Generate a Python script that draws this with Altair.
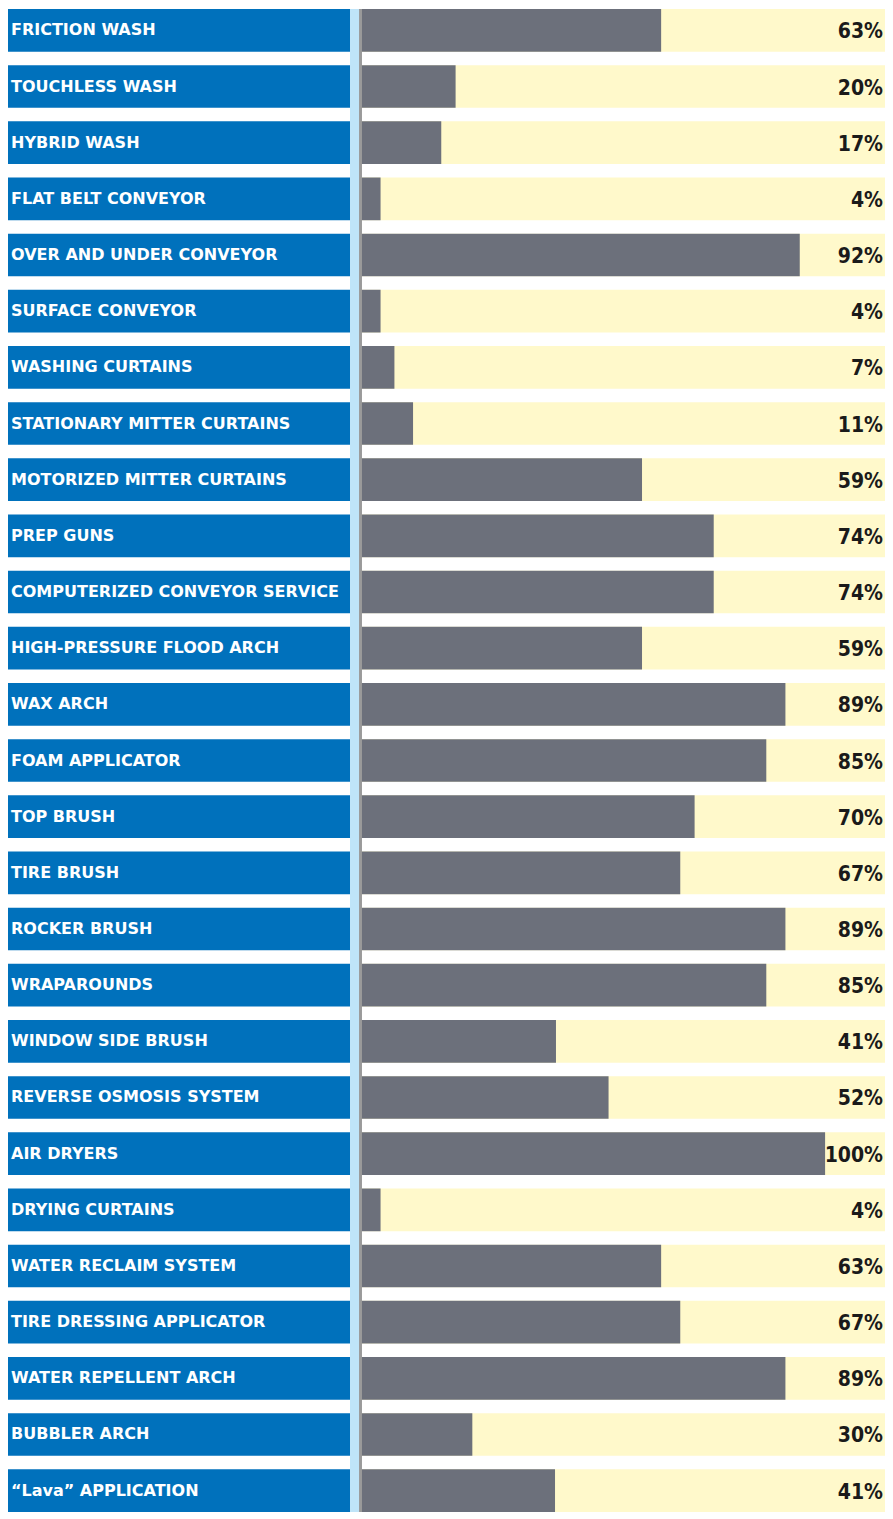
import altair as alt
import pandas as pd

labels = [
    "FRICTION WASH", "TOUCHLESS WASH", "HYBRID WASH", "FLAT BELT CONVEYOR",
    "OVER AND UNDER CONVEYOR", "SURFACE CONVEYOR", "WASHING CURTAINS",
    "STATIONARY MITTER CURTAINS", "MOTORIZED MITTER CURTAINS", "PREP GUNS",
    "COMPUTERIZED CONVEYOR SERVICE", "HIGH-PRESSURE FLOOD ARCH", "WAX ARCH",
    "FOAM APPLICATOR", "TOP BRUSH", "TIRE BRUSH", "ROCKER BRUSH", "WRAPAROUNDS",
    "WINDOW SIDE BRUSH", "REVERSE OSMOSIS SYSTEM", "AIR DRYERS", "DRYING CURTAINS",
    "WATER RECLAIM SYSTEM", "TIRE DRESSING APPLICATOR", "WATER REPELLENT ARCH",
    "BUBBLER ARCH", "\u201cLava\u201d APPLICATION",
]
pct_labels = [63, 20, 17, 4, 92, 4, 7, 11, 59, 74, 74, 59, 89, 85, 70, 67, 89, 85,
              41, 52, 100, 4, 63, 67, 89, 30, 41]
bar_len = [63, 20, 17, 4.3, 92, 4.3, 7.2, 11.1, 59, 74, 74, 59, 89, 85, 70, 67, 89, 85,
           41, 52, 97.3, 4.3, 63, 67, 89, 23.5, 40.8]

df = pd.DataFrame({
    "label": labels,
    "pct": pct_labels,
    "bar": bar_len,
    "pct_text": [f"{p}%" for p in pct_labels],
})

W = 877
H = 1503
BOX_END = 342
STRIP_END = 352
PX_PER = 4.78

yenc = alt.Y("label:N", sort=labels, axis=None,
             scale=alt.Scale(domain=labels, paddingInner=0.24, paddingOuter=0))
xscale = alt.Scale(domain=[0, 100], range=[STRIP_END, STRIP_END + 100 * PX_PER],
                   nice=False, zero=True)

base = alt.Chart(df)

left_box = base.mark_bar(color="#0071bc").encode(
    y=yenc, x=alt.value(0), x2=alt.value(BOX_END))
left_text = base.mark_text(align="left", baseline="middle", color="white",
                           font="DejaVu Sans", fontWeight="bold", fontSize=16).encode(
    y=yenc, x=alt.value(3), text="label:N")
strip = base.mark_rect(color="#bfe4f8").encode(
    x=alt.value(BOX_END), x2=alt.value(STRIP_END), y=alt.value(0), y2=alt.value(H))

cream = base.mark_bar(color="#fff9cb").encode(
    y=yenc, x=alt.value(STRIP_END), x2=alt.value(W))
grey = base.mark_bar(color="#6c707b").encode(
    y=yenc,
    x=alt.X("bar:Q", axis=None, scale=xscale))
pct_text = base.mark_text(align="right", baseline="middle", color="#1a1a1a",
                          font="DejaVu Sans Condensed", fontWeight="bold", fontSize=21,
                          dy=2).encode(
    y=yenc, x=alt.value(W - 2), text="pct_text:N")
rule = base.mark_rule(color="#9a9a9a", strokeWidth=1.5).encode(
    x=alt.value(STRIP_END + 0.5), y=alt.value(0), y2=alt.value(H))

chart = alt.layer(left_box, left_text, strip, cream, grey, pct_text, rule).properties(
    width=W, height=H, padding=0
).configure_view(stroke=None)

chart.save("out.html", embed_options={"renderer": "svg", "actions": False})
